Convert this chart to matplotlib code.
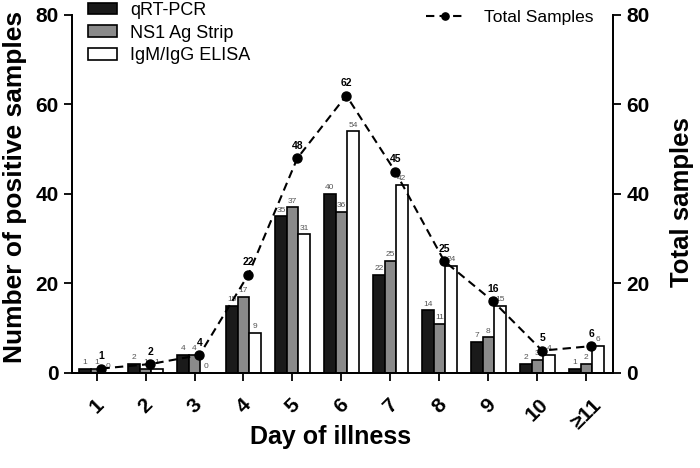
import matplotlib
matplotlib.use("Agg")
import matplotlib.pyplot as plt
import numpy as np

plt.rcParams['font.family'] = ['Liberation Sans', 'DejaVu Sans']

days = ['1', '2', '3', '4', '5', '6', '7', '8', '9', '10', '≥11']
qrt_pcr = [1, 2, 4, 15, 35, 40, 22, 14, 7, 2, 1]
ns1 = [1, 1, 4, 17, 37, 36, 25, 11, 8, 3, 2]
elisa = [0, 1, 0, 9, 31, 54, 42, 24, 15, 4, 6]
total = [1, 2, 4, 22, 48, 62, 45, 25, 16, 5, 6]

fig = plt.figure(figsize=(7.0, 4.68), dpi=100)
ax = fig.add_axes([0.103, 0.203, 0.773, 0.765])
ax2 = ax.twinx()

x = np.arange(1, len(days) + 1)
w = 0.235
series = [(qrt_pcr, '#1a1a1a', -w, 'qRT-PCR'),
          (ns1, '#8a8a8a', 0, 'NS1 Ag Strip'),
          (elisa, 'white', w, 'IgM/IgG ELISA')]
for vals, col, off, lab in series:
    ax.bar(x + off, vals, w, color=col, edgecolor='black', linewidth=1.2, label=lab, zorder=2)
    for xi, v in zip(x + off, vals):
        ax.text(xi, v + 0.6, str(v), ha='center', va='bottom', fontsize=6, color='#555555')

xt = x + 0.1
ax2.plot(xt, total, '--', color='black', marker='o', markersize=6.5, linewidth=1.5,
         dashes=(4, 2.5), label='Total Samples', zorder=3)
for xi, v in zip(xt, total):
    ax2.text(xi, v + 1.6, str(v), ha='center', va='bottom', fontsize=7.5, fontweight='bold', color='black')

for a in (ax, ax2):
    a.set_xlim(0.5, 11.55)
    a.set_ylim(0, 80)
    a.set_yticks([0, 20, 40, 60, 80])
    a.spines['top'].set_visible(False)
    for s in ('left', 'right', 'bottom'):
        a.spines[s].set_linewidth(1.3)
    a.tick_params(axis='both', direction='out', width=1.3, length=6, labelsize=15)
    for t in a.get_yticklabels():
        t.set_fontweight('bold')

ax.set_xticks(x)
ax.set_xticklabels(days, rotation=45, fontsize=15, fontweight='bold', ha='center', va='top')
ax.tick_params(axis='x', pad=10, length=6)

ax.set_xlabel('Day of illness', fontsize=18, fontweight='bold')
ax.xaxis.set_label_coords(0.477, -0.145)
ax.set_ylabel('Number of positive samples', fontsize=19, fontweight='bold')
ax.yaxis.set_label_coords(-0.083, 0.52)
ax2.set_ylabel('Total samples', fontsize=18.5, fontweight='bold')
ax2.yaxis.set_label_coords(1.105, 0.478)

ax.legend(loc='upper left', bbox_to_anchor=(0.03, 1.037), frameon=False, fontsize=13,
          handlelength=1.6, handleheight=0.6, labelspacing=0.32, handletextpad=0.7,
          borderaxespad=0, borderpad=0)
ax2.legend(loc='upper right', bbox_to_anchor=(0.963, 1.015), frameon=False, fontsize=12.5,
           handlelength=2.2, handletextpad=1.1, borderaxespad=0, borderpad=0, markerscale=0.8)

fig.savefig('out.png', dpi=100)
